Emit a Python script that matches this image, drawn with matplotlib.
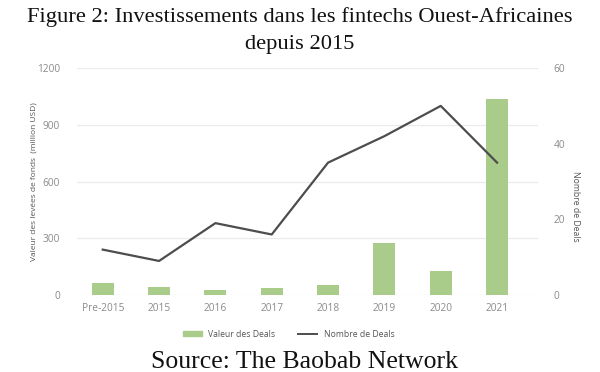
import matplotlib
matplotlib.use("Agg")
import matplotlib.pyplot as plt
from matplotlib.lines import Line2D
from matplotlib.patches import Patch

# data
categories = ["Pre-2015", "2015", "2016", "2017", "2018", "2019", "2020", "2021"]
deal_value = [65, 40, 26, 38, 53, 277, 126, 1035]   # million USD
deal_count = [12, 9, 19, 16, 35, 42, 50, 35]

BAR_COLOR = "#a9cc8a"
LINE_COLOR = "#4d4d4d"
TICK_COLOR = "#8a8a8a"
GRID_COLOR = "#ebebeb"
SANS = ["Open Sans", "DejaVu Sans"]
SERIF = ["Liberation Serif", "DejaVu Serif"]

fig = plt.figure(figsize=(6, 3.72), dpi=100, facecolor="white")
ax = fig.add_axes([0.128, 0.207, 0.769, 0.61])
ax2 = ax.twinx()

x = list(range(len(categories)))
ax.bar(x, deal_value, width=0.39, color=BAR_COLOR, zorder=2)
ax2.plot(x, deal_count, color=LINE_COLOR, linewidth=1.6, zorder=3)

ax.set_xlim(-0.46, 7.73)
ax.set_ylim(0, 1200)
ax2.set_ylim(0, 60)
ax.set_yticks([0, 300, 600, 900, 1200])
ax2.set_yticks([0, 20, 40, 60])
ax.set_xticks(x)
ax.set_xticklabels(categories)

ax.grid(axis="y", color=GRID_COLOR, linewidth=0.9, zorder=0)
ax.set_axisbelow(True)
for a in (ax, ax2):
    for spine in a.spines.values():
        spine.set_visible(False)
    a.tick_params(length=0, labelsize=7.3, colors=TICK_COLOR)
    for lbl in a.get_xticklabels() + a.get_yticklabels():
        lbl.set_family(SANS)
ax.tick_params(axis="y", pad=12)
ax.tick_params(axis="x", pad=6)
ax2.tick_params(axis="y", pad=11)

ax.set_ylabel("Valeur des levées de fonds  (million USD)", fontsize=6.0,
              color="#555555", family=SANS)
ax.yaxis.set_label_coords(-0.085, 0.5)
ax2.set_ylabel("Nombre de Deals", fontsize=6.2, color="#555555",
               family=SANS, rotation=270, va="center")
ax2.yaxis.set_label_coords(1.08, 0.39)

handles = [Patch(color=BAR_COLOR), Line2D([], [], color=LINE_COLOR, linewidth=1.4)]
fig.legend(handles, ["Valeur des Deals", "Nombre de Deals"], loc="center",
           bbox_to_anchor=(0.481, 0.102), ncol=2, frameon=False,
           prop={"family": SANS, "size": 6.2}, labelcolor="#555555",
           handlelength=2.2, handleheight=0.6, columnspacing=2.6)

fig.text(0.5, 0.953, "Figure 2: Investissements dans les fintechs Ouest-Africaines",
         ha="center", va="center", fontsize=16.2, family=SERIF, color="#111111")
fig.text(0.5, 0.88, "depuis 2015", ha="center", va="center",
         fontsize=16.2, family=SERIF, color="#111111")
fig.text(0.507, 0.012, "Source: The Baobab Network", ha="center", va="baseline",
         fontsize=18.5, family=SERIF, color="#111111")

fig.savefig("out.png", dpi=100, facecolor="white")
plt.close(fig)
